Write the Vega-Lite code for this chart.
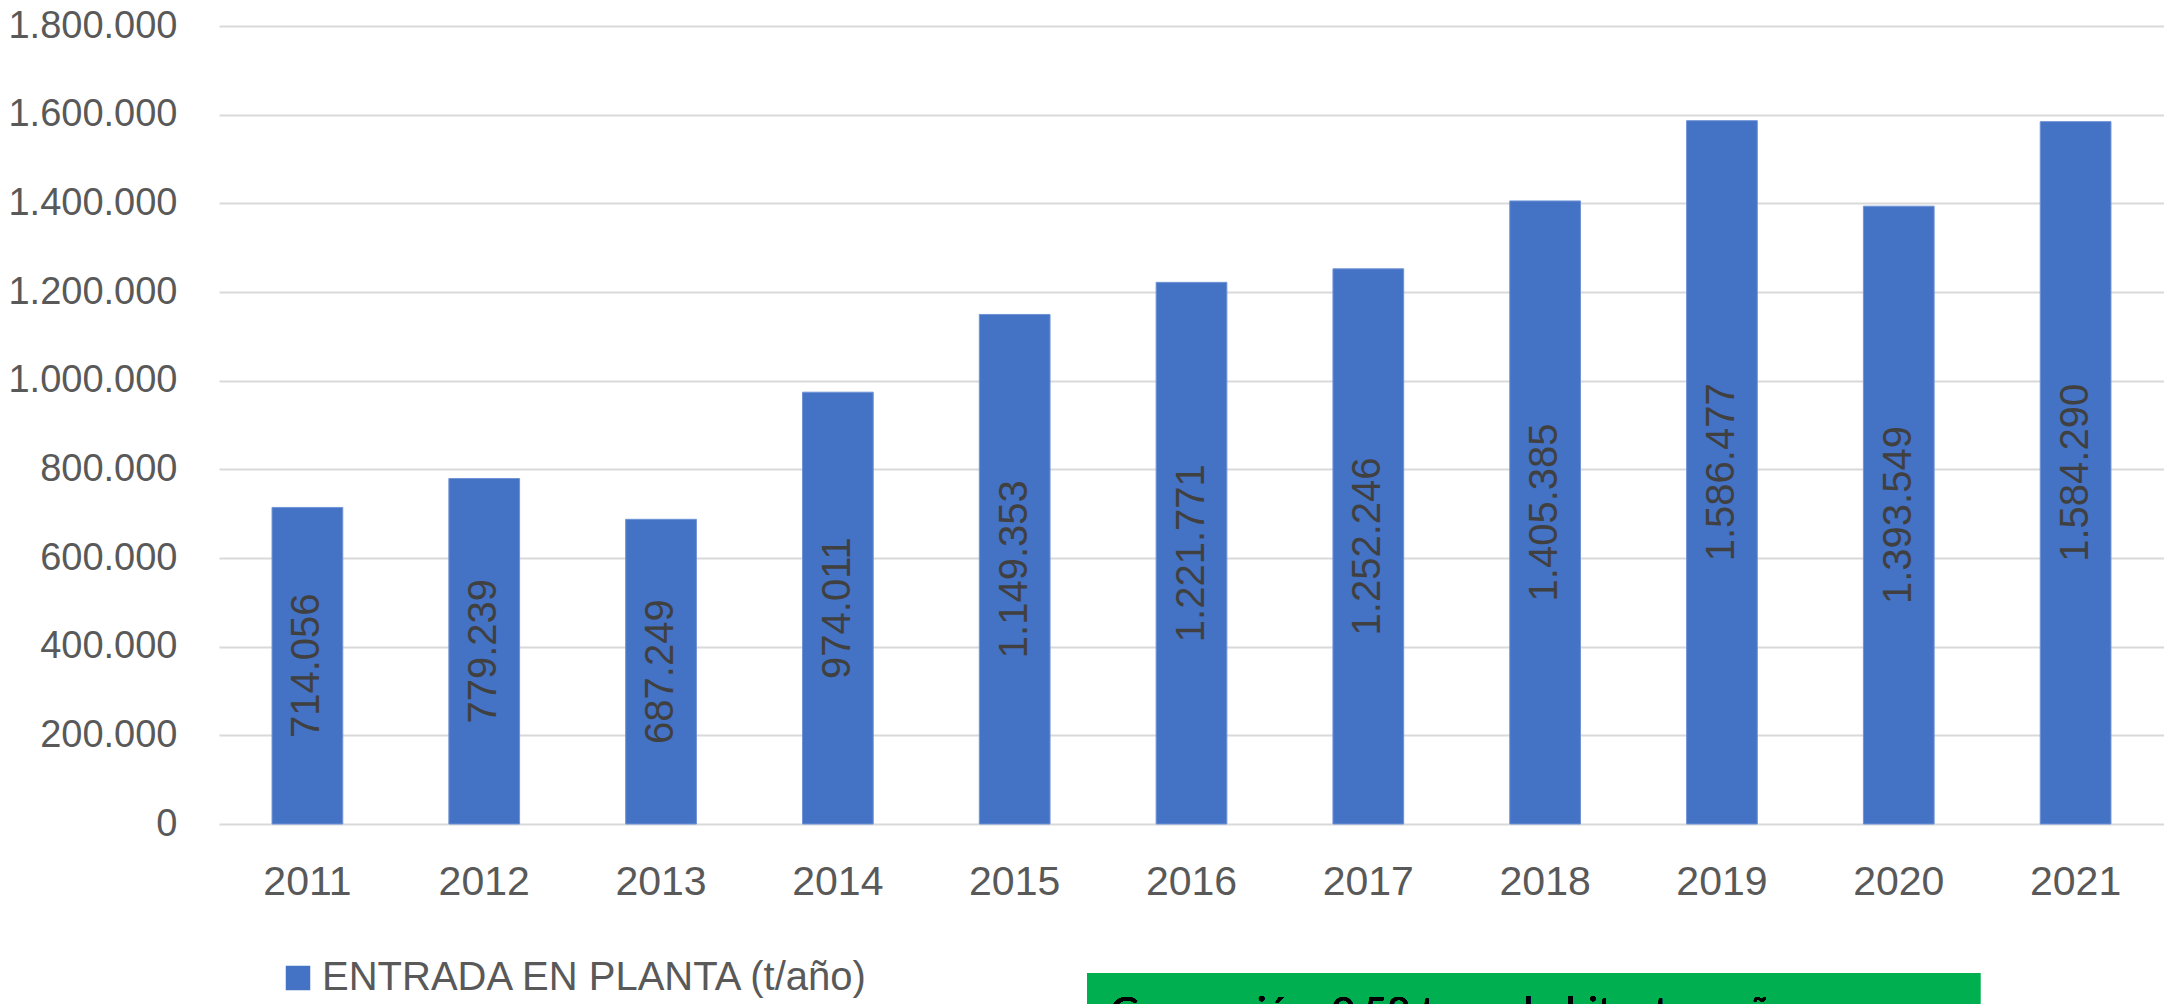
{
  "$schema": "https://vega.github.io/schema/vega-lite/v6.json",
  "autosize": "none",
  "width": 1945,
  "height": 798,
  "padding": {"left": 219, "top": 26, "right": 0, "bottom": 180},
  "background": "white",
  "config": {
    "view": {"stroke": null},
    "locale": {"number": {"decimal": ",", "thousands": ".", "grouping": [3], "currency": ["", " €"]}},
    "font": "Liberation Sans, Arial, sans-serif"
  },
  "data": {"values": [
    {"year": "2011", "value": 714056},
    {"year": "2012", "value": 779239},
    {"year": "2013", "value": 687249},
    {"year": "2014", "value": 974011},
    {"year": "2015", "value": 1149353},
    {"year": "2016", "value": 1221771},
    {"year": "2017", "value": 1252246},
    {"year": "2018", "value": 1405385},
    {"year": "2019", "value": 1586477},
    {"year": "2020", "value": 1393549},
    {"year": "2021", "value": 1584290}
  ]},
  "layer": [
    {
      "mark": {"type": "bar", "stroke": "#6f93d6", "strokeWidth": 1},
      "encoding": {
        "x": {"field": "year", "type": "ordinal", "sort": null,
          "scale": {"paddingInner": 0.6, "paddingOuter": 0.3},
          "axis": {"title": null, "labelAngle": 0, "labelFont": "Liberation Sans, Arial, sans-serif", "labelFontSize": 41, "labelColor": "#595959", "ticks": false, "tickSize": 0, "domain": false, "labelPadding": 38, "grid": false, "labelLimit": 0}},
        "y": {"field": "value", "type": "quantitative",
          "scale": {"domain": [0, 1800000], "nice": false},
          "axis": {"title": null, "values": [0, 200000, 400000, 600000, 800000, 1000000, 1200000, 1400000, 1600000, 1800000], "format": ",d", "labelFont": "Liberation Sans, Arial, sans-serif", "labelFontSize": 38, "labelColor": "#595959", "ticks": false, "tickSize": 0, "domain": false, "labelPadding": 42, "labelLimit": 0, "grid": true, "gridColor": "#d9d9d9", "gridWidth": 2}},
        "color": {"datum": "ENTRADA EN PLANTA (t/año)", "type": "nominal",
          "scale": {"range": ["#4472C4"]},
          "legend": {"title": null, "orient": "none", "legendX": 59, "legendY": 932, "padding": 0, "symbolType": "square", "symbolSize": 600, "symbolStrokeWidth": 0, "labelFont": "Liberation Sans, Arial, sans-serif", "labelFontSize": 40, "labelColor": "#595959", "labelOffset": 4, "labelLimit": 1000}}
      }
    },
    {
      "mark": {"type": "text", "angle": 270, "align": "center", "baseline": "middle", "font": "Liberation Sans, Arial, sans-serif", "fontSize": 40, "color": "#404040"},
      "encoding": {
        "x": {"field": "year", "type": "ordinal", "sort": null,
          "scale": {"paddingInner": 0.6, "paddingOuter": 0.3}, "axis": null},
        "y": {"field": "value", "type": "quantitative",
          "scale": {"domain": [0, 3600000], "nice": false}, "axis": null},
        "text": {"field": "value", "type": "quantitative", "format": ",d"}
      }
    },
    {
      "mark": {"type": "rect", "color": "#00B050", "clip": false},
      "encoding": {
        "x": {"datum": 4.91, "type": "quantitative", "scale": {"domain": [0, 11], "nice": false, "zero": false}, "axis": null},
        "x2": {"datum": 9.96},
        "y": {"datum": -336000, "type": "quantitative", "scale": {"domain": [0, 1800000], "nice": false}, "axis": null},
        "y2": {"datum": -700000}
      }
    },
    {
      "mark": {"type": "text", "align": "left", "baseline": "top", "font": "Lato", "fontSize": 40, "color": "#000000", "text": "Generación: 0,58 t. por habitante y año"},
      "encoding": {
        "x": {"datum": 5.04, "type": "quantitative", "scale": {"domain": [0, 11], "nice": false, "zero": false}, "axis": null},
        "y": {"datum": -383000, "type": "quantitative", "scale": {"domain": [0, 1800000], "nice": false}, "axis": null}
      }
    }
  ],
  "resolve": {"scale": {"x": "independent", "y": "independent"}}
}
